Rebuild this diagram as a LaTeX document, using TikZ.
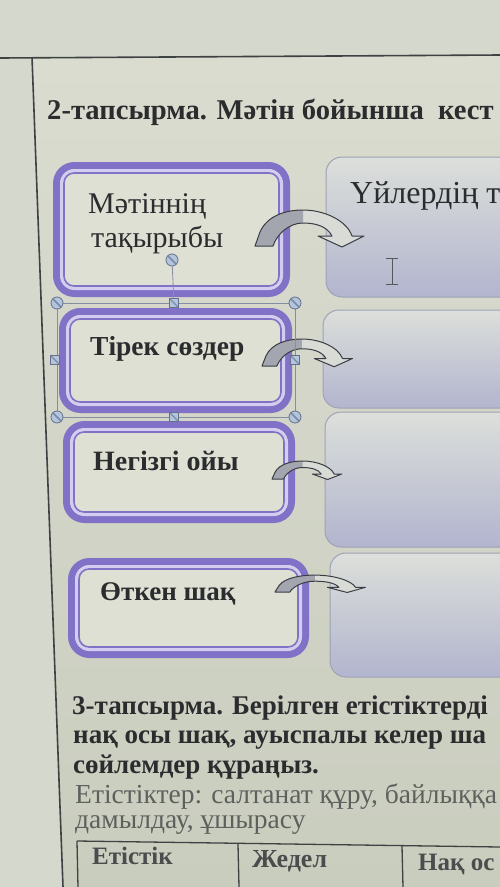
\documentclass[tikz,border=0pt]{standalone}
\usepackage{fontspec}
\setmainfont{Liberation Serif}
\usetikzlibrary{calc}
\definecolor{bgout}{HTML}{D5D8CC}
\definecolor{pagetop}{HTML}{DADCCF}
\definecolor{pagebot}{HTML}{C9CDBE}
\definecolor{lpurple}{HTML}{8171C7}
\definecolor{lavring}{HTML}{D3CEF0}
\definecolor{linner}{HTML}{DEE0D4}
\definecolor{rtop}{HTML}{DCDFDA}
\definecolor{rbot}{HTML}{B2B5CE}
\definecolor{rline}{HTML}{9EA2B6}
\definecolor{arrgrey}{HTML}{A3A6AE}
\definecolor{arrlight}{HTML}{D9DCD6}
\definecolor{arrline}{HTML}{3A3D44}
\definecolor{txtdark}{HTML}{2B2C2E}
\definecolor{txtgrey}{HTML}{5E605E}
\definecolor{pline}{HTML}{3E4242}
\definecolor{hfill}{HTML}{B2C5DD}
\definecolor{hline}{HTML}{66708A}
\definecolor{hstripe}{HTML}{7A8AA8}
\begin{document}
\begin{tikzpicture}[x=1pt,y=-1pt,
  lbox/.style={draw=lpurple, line width=7pt, fill=linner, rounded corners=18pt, inner sep=0pt, outer sep=0pt},
  rbox/.style={draw=rline, line width=1pt, top color=rtop, bottom color=rbot, rounded corners=16pt, inner sep=0pt, outer sep=0pt},
  ring/.style={draw=lavring, line width=3pt},
  thinring/.style={draw=lpurple, line width=1.6pt},
  txt/.style={anchor=base west, inner sep=0pt, text=txtdark},
  handc/.style={circle, draw=hline, fill=hfill, line width=0.8pt, minimum size=12pt, inner sep=0pt,
     path picture={\draw[hstripe, line width=1.6pt] (path picture bounding box.north west) -- (path picture bounding box.south east);}},
  hands/.style={rectangle, draw=hline, fill=hfill, line width=0.8pt, minimum size=9pt, inner sep=0pt,
     path picture={\draw[hstripe, line width=1.4pt] (path picture bounding box.north west) -- (path picture bounding box.south east);}},
  handframe/.style={draw=hline!80, line width=0.8pt},
  curvarr/.pic={
    \fill[arrlight] (0,0) -- (5,-14) .. controls (12,-30) and (30,-36) .. (48,-36) .. controls (70,-36) and (92,-25) .. (97,-10) -- (109,-10) -- (87,1) -- (63,-10) -- (77,-10) .. controls (72,-20) and (60,-23) .. (48,-23) .. controls (34,-23) and (22,-12) .. (18,0) -- cycle;
    \fill[arrgrey] (0,0) -- (5,-14) .. controls (12,-30) and (30,-36) .. (48,-36) -- (48,-23) .. controls (34,-23) and (22,-12) .. (18,0) -- cycle;
    \draw[arrline, line width=1pt, line join=round] (0,0) -- (5,-14) .. controls (12,-30) and (30,-36) .. (48,-36) .. controls (70,-36) and (92,-25) .. (97,-10) -- (109,-10) -- (87,1) -- (63,-10) -- (77,-10) .. controls (72,-20) and (60,-23) .. (48,-23) .. controls (34,-23) and (22,-12) .. (18,0) -- cycle;
  }
]
\useasboundingbox (0,0) rectangle (500,887);
\clip (0,0) rectangle (500,887);
% background and page
\fill[bgout] (0,0) rectangle (500,887);
\shade[top color=pagetop, bottom color=pagebot] (32,57) -- (500,55) -- (500,887) -- (63,887) -- cycle;
\draw[pline, line width=1.6pt] (0,58) -- (500,55);
\draw[pline, line width=1.6pt] (32,57) -- (63,887);

% title
\node[txt] (title) at (47,119) {\fontsize{28.6}{35}\selectfont\bfseries 2-тапсырма. Мәтін бойынша \ кест};

% right boxes
\node[rbox, minimum width=234pt, minimum height=140pt] (r1) at (443,227) {};
\node[rbox, minimum width=237pt, minimum height=98pt] (r2) at (441.5,359) {};
\node[rbox, minimum width=235pt, minimum height=135pt] (r3) at (442.5,479.5) {};
\node[rbox, minimum width=230pt, minimum height=124pt] (r4) at (445,615) {};
\node[txt] (r1t) at (350,203) {\fontsize{32}{38}\selectfont Үйлердің т};
% text cursor
\draw[txtdark!80, line width=1pt] (392,258) -- (392,284) coordinate (cur);
\draw[txtdark!80, line width=1pt] (386,258) -- (398,258) (386,284) -- (398,284);

% left boxes
\foreach \n/\cx/\cy/\w/\h in {b1/171.5/229.5/230/128, b2/175.5/360.5/226/98, b3/179/472/225/95, b4/188.5/608/234/93}{
  \node[lbox, minimum width=\w pt, minimum height=\h pt] (\n) at (\cx,\cy) {};
  \draw[ring, rounded corners=13pt] ($(\n.north west)+(5,5)$) rectangle ($(\n.south east)+(-5,-5)$);
  \draw[thinring, rounded corners=10pt] ($(\n.north west)+(7.5,7.5)$) rectangle ($(\n.south east)+(-7.5,-7.5)$);
}
\node[txt] (t1a) at (88,213) {\fontsize{30}{34}\selectfont Мәтіннің};
\node[txt] (t1b) at (91,247) {\fontsize{30}{34}\selectfont тақырыбы};
\node[txt] (t2) at (90,355) {\fontsize{27.5}{32}\selectfont\bfseries Тірек сөздер};
\node[txt] (t3) at (93,470) {\fontsize{28}{32}\selectfont\bfseries Негізгі ойы};
\node[txt] (t4) at (100,600) {\fontsize{27}{30}\selectfont\bfseries Өткен шақ};

% curved arrows
\coordinate (a1) at (255,246);
\coordinate (a2) at (262,366);
\coordinate (a3) at (272,479);
\coordinate (a4) at (275,592);
\pic at (a1) {curvarr};
\pic[xscale=0.83, yscale=0.75] at (a2) {curvarr};
\pic[xscale=0.64, yscale=0.5] at (a3) {curvarr};
\pic[xscale=0.83, yscale=0.47] at (a4) {curvarr};

% selection handles around box 2
\coordinate (hnwp) at (57,303);
\coordinate (hnep) at (295,303);
\coordinate (hswp) at (57,417);
\coordinate (hsep) at (295,417);
\draw[handframe] (hnwp) rectangle (hsep);
\node[handc] (hr) at (172,260) {};
\node[hands] (hn) at (174,303) {};
\draw[handframe] (hr) -- (hn);
\node[handc] (hnw) at (hnwp) {};
\node[handc] (hne) at (hnep) {};
\node[handc] (hsw) at (hswp) {};
\node[handc] (hse) at (hsep) {};
\node[hands] (hs) at (174,417) {};
\node[hands] (hw) at (55,360) {};
\node[hands] (he) at (295,360) {};

% task 3 text
\node[txt] (p1) at (72,714) {\fontsize{27}{30}\selectfont\bfseries 3-тапсырма. Берілген етістіктерді};
\node[txt] (p2) at (73,743) {\fontsize{27}{30}\selectfont\bfseries нақ осы шақ, ауыспалы келер ша};
\node[txt] (p3) at (73,773) {\fontsize{27}{30}\selectfont\bfseries сөйлемдер құраңыз.};
\node[txt, text=txtgrey] (p4) at (75,803) {\fontsize{27.5}{30}\selectfont Етістіктер: салтанат құру, байлыққа};
\node[txt, text=txtgrey] (p5) at (75,828) {\fontsize{27.5}{30}\selectfont дамылдау, ұшырасу};

% table
\coordinate (tl) at (77,841);
\coordinate (tr) at (500,847);
\draw[pline, line width=1.3pt] (tl) -- (tr);
\draw[pline, line width=1.3pt] (77,841) -- (78,887);
\draw[pline, line width=1.3pt] (238,844) -- (239,887);
\draw[pline, line width=1.3pt] (402,846) -- (403,887);
\node[txt, text=txtdark!85] (c1) at (92,864) {\fontsize{25}{30}\selectfont\bfseries Етістік};
\node[txt, text=txtdark!85] (c2) at (252,867) {\fontsize{26}{30}\selectfont\bfseries Жедел};
\node[txt, text=txtdark!85] (c3) at (418,870) {\fontsize{25}{30}\selectfont\bfseries Нақ ос};
\end{tikzpicture}
\end{document}
